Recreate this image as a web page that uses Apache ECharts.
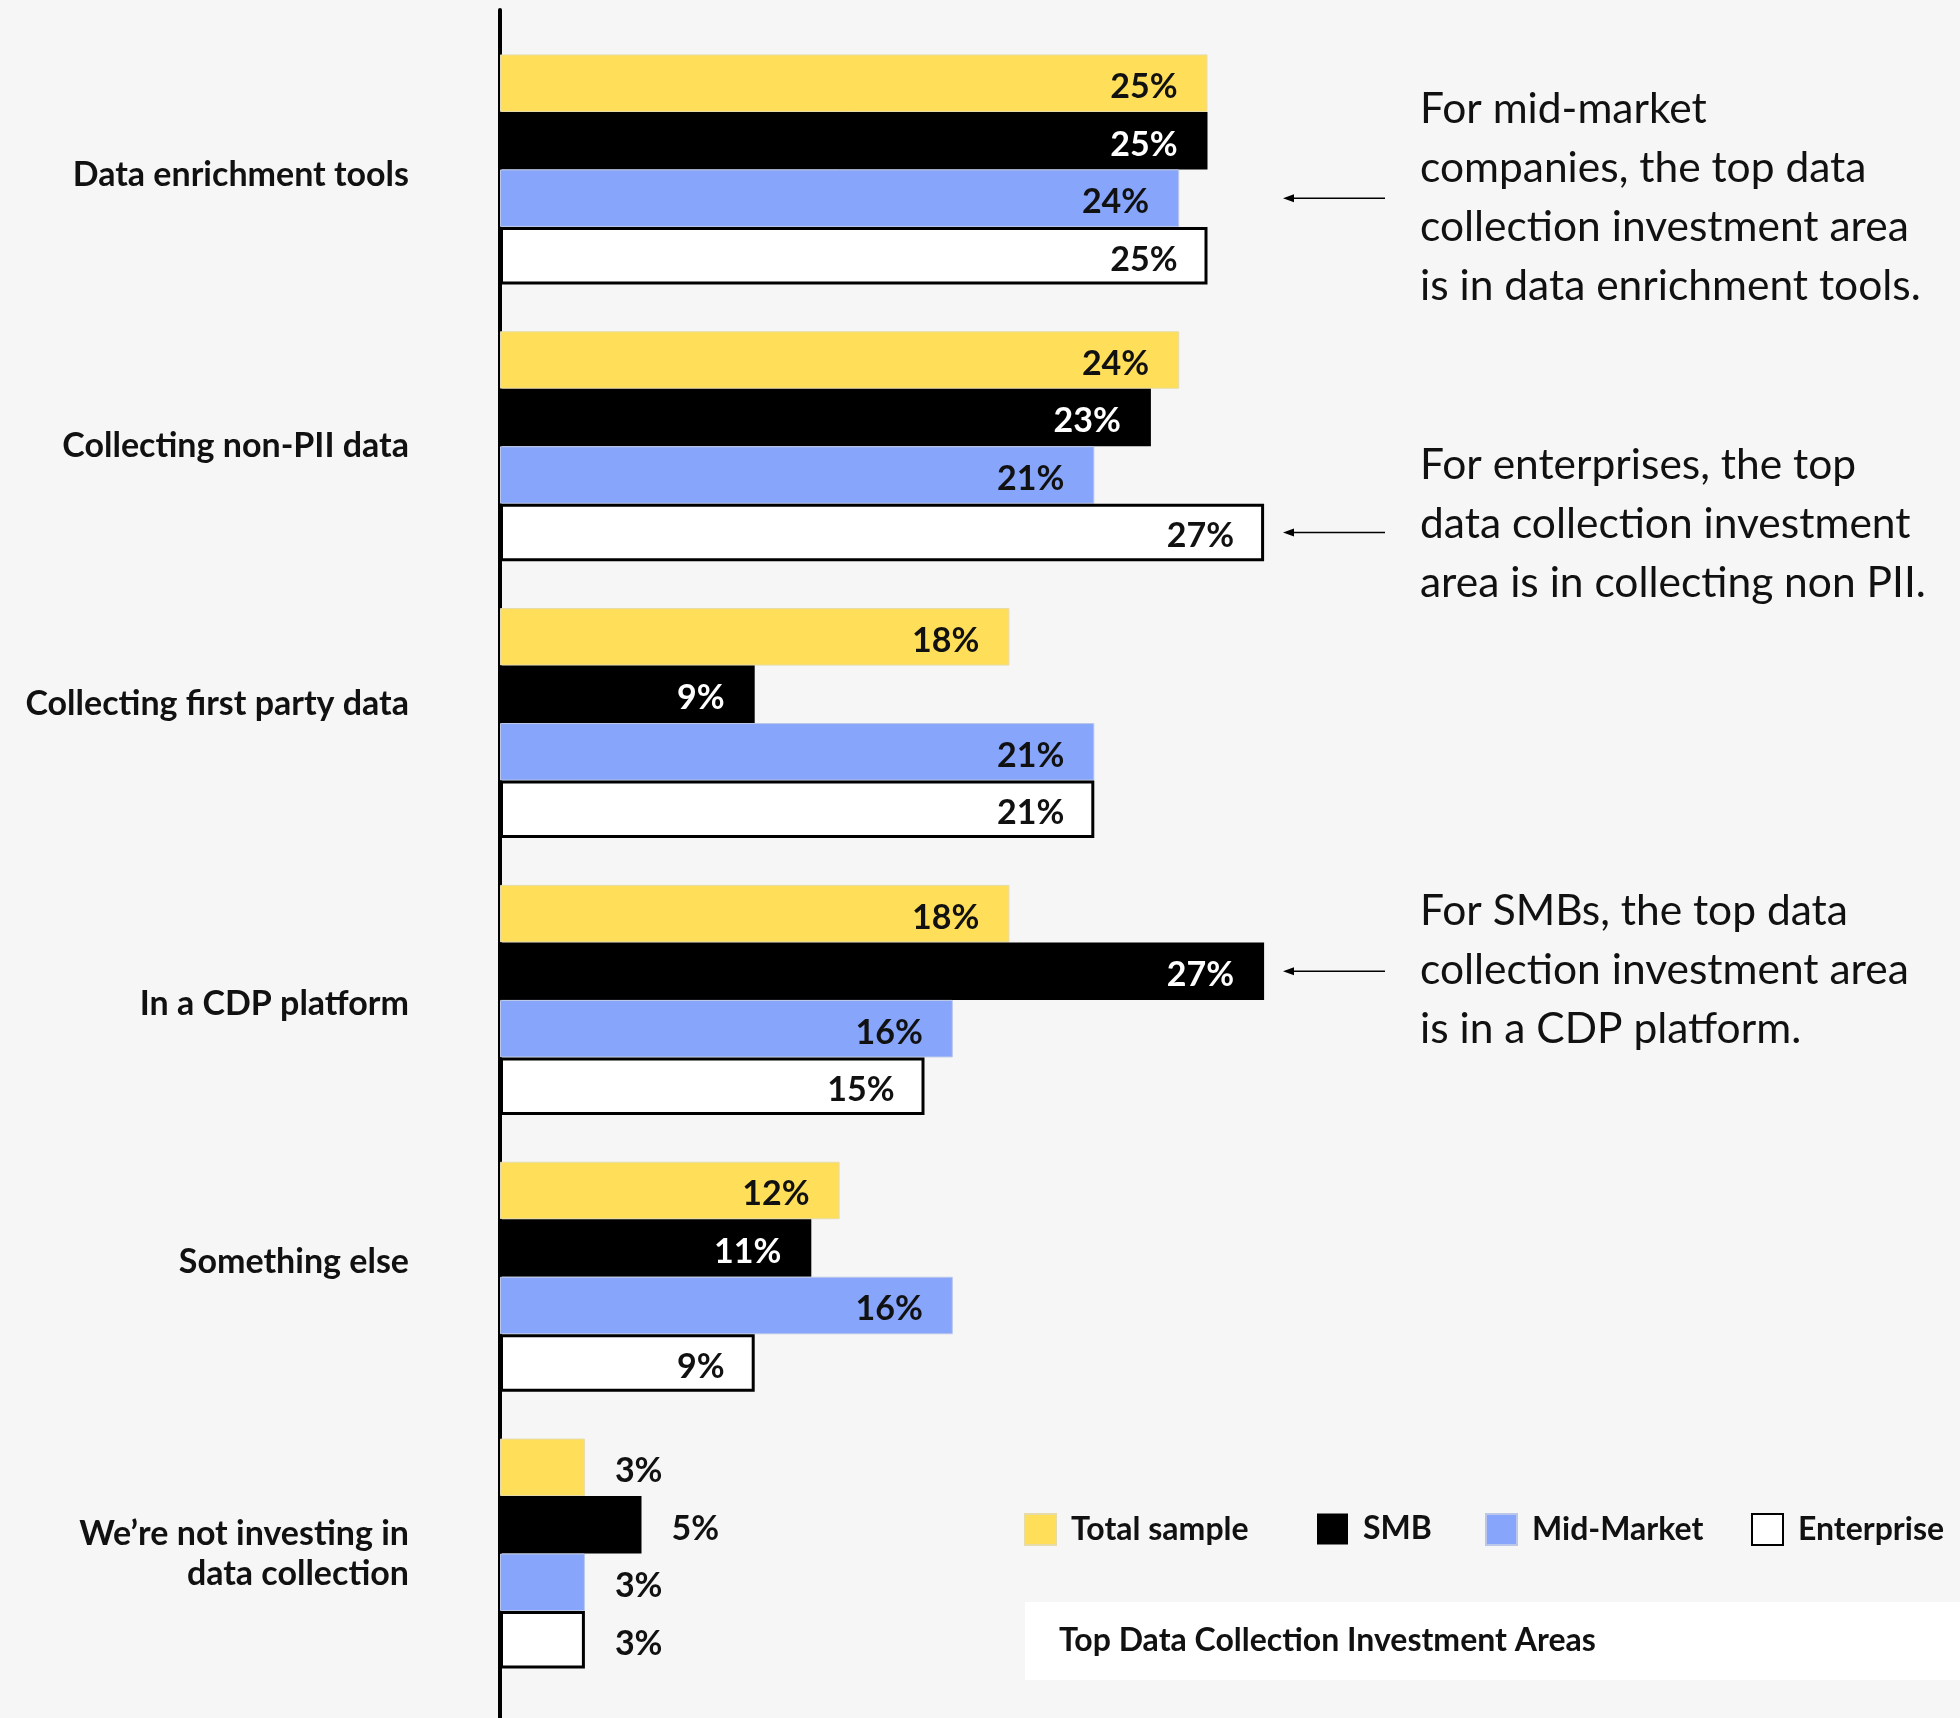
<!DOCTYPE html>
<html>
<head>
<meta charset="utf-8">
<script src="https://cdn.jsdelivr.net/npm/echarts@6/dist/echarts.min.js"></script>
<style>
  html, body { margin: 0; padding: 0; background: #f6f6f6; }
  #chart { width: 1960px; height: 1718px; }
</style>
</head>
<body>
<div id="chart"></div>
<script>
// Survey answers: where companies invest in data collection (% of respondents)
const categories = [
  'Data enrichment tools',
  'Collecting non-PII data',
  'Collecting first party data',
  'In a CDP platform',
  'Something else',
  'We\u2019re not investing in\ndata collection'
];
const seriesNames = ['Total sample', 'SMB', 'Mid-Market', 'Enterprise'];
const totalSample = [25, 24, 18, 18, 12, 3];
const smb = [25, 23, 9, 27, 11, 5];
const midMarket = [24, 21, 21, 16, 16, 3];
const enterprise = [25, 27, 21, 15, 9, 3];

const chartTitle = 'Top Data Collection Investment Areas';
const notes = [
  'For mid-market\ncompanies, the top data\ncollection investment area\nis in data enrichment tools.',
  'For enterprises, the top\ndata collection investment\narea is in collecting non PII.',
  'For SMBs, the top data\ncollection investment area\nis in a CDP platform.'
];
// [category index, series index] of the bar each note points at
const noteTargets = [[0, 2], [1, 3], [3, 1]];

const FONT = 'Lato';
const BAR_W = 57.5;

// small vertical nudges (px) for the category labels
const labelNudge = [6, 0, -19, 4, -15, 0];

const styles = [
  { color: '#ffde59', borderColor: '#e6dcaa', borderWidth: 1, label: '#111' },
  { color: '#000000', borderColor: '#000000', borderWidth: 0, label: '#ffffff' },
  { color: '#86a5fb', borderColor: '#bac7e8', borderWidth: 1, label: '#111' },
  { color: '#ffffff', borderColor: '#000000', borderWidth: 3, label: '#111' }
];

function buildSeries(name, values, idx) {
  const st = styles[idx];
  return {
    name: name,
    type: 'bar',
    xAxisIndex: 0,
    yAxisIndex: 0,
    barWidth: BAR_W,
    barGap: '0%',
    itemStyle: { color: st.color, borderColor: st.borderColor, borderWidth: st.borderWidth },
    data: values.map(v => {
      const outside = v <= 5;
      return {
        value: v,
        label: {
          show: true,
          position: outside ? 'right' : 'insideRight',
          distance: 30,
          offset: [0, 4],
          color: outside ? '#111' : st.label,
          fontFamily: FONT,
          fontWeight: 'bold',
          fontSize: 34,
          formatter: '{c}%'
        }
      };
    })
  };
}

const labelRich = {};
labelNudge.forEach((d, i) => {
  labelRich['n' + i] = {
    fontFamily: FONT,
    fontWeight: 'bold',
    fontSize: 34,
    lineHeight: 40,
    color: '#111',
    padding: d >= 0 ? [2 * d, 0, 0, 0] : [0, 0, -2 * d, 0]
  };
});

// one legend block per series so each entry sits at its own x
const legendLefts = [1019, 1312, 1480, 1746];
const legends = seriesNames.map((n, i) => ({
  data: [n],
  left: legendLefts[i],
  top: 1508,
  itemWidth: 31,
  itemHeight: 31,
  icon: 'rect',
  selectedMode: false,
  textStyle: { fontFamily: FONT, fontWeight: 'bold', fontSize: 32, color: '#111', padding: [0, 0, 0, 10] }
}));

const chart = echarts.init(document.getElementById('chart'), null, { renderer: 'canvas' });

const option = {
  backgroundColor: '#f6f6f6',
  animation: false,
  title: {
    text: chartTitle,
    left: 1059,
    top: 1641,
    textVerticalAlign: 'middle',
    textStyle: { fontFamily: FONT, fontWeight: 'bold', fontSize: 32, color: '#111' },
    padding: 0
  },
  legend: legends,
  grid: [
    { left: 500, top: 31, width: 849, height: 1661 },
    { left: 500, top: 10, width: 849, height: 1708 }
  ],
  xAxis: [
    { type: 'value', gridIndex: 0, min: 0, max: 30, show: false },
    { type: 'value', gridIndex: 1, min: 0, max: 30, show: false }
  ],
  yAxis: [
    {
      type: 'category',
      gridIndex: 0,
      data: categories,
      inverse: true,
      axisLine: { show: false },
      axisTick: { show: false },
      axisLabel: {
        margin: 91,
        fontFamily: FONT,
        fontWeight: 'bold',
        fontSize: 34,
        lineHeight: 40,
        color: '#111',
        align: 'right',
        formatter: (value, index) => {
          if (labelNudge[index] === 0) return value;
          return '{n' + index + '|' + value + '}';
        },
        rich: labelRich
      }
    },
    {
      type: 'value',
      gridIndex: 1,
      axisLine: { show: true, onZero: false, lineStyle: { color: '#000', width: 4 } },
      axisTick: { show: false },
      axisLabel: { show: false },
      splitLine: { show: false }
    }
  ],
  series: [
    buildSeries(seriesNames[0], totalSample, 0),
    buildSeries(seriesNames[1], smb, 1),
    buildSeries(seriesNames[2], midMarket, 2),
    buildSeries(seriesNames[3], enterprise, 3)
  ]
};

chart.setOption(option);

// White panel behind the title, callout notes and arrows pointing to highlighted bars
const graphics = [
  {
    type: 'rect',
    z: -1,
    shape: { x: 1025, y: 1602, width: 935, height: 78 },
    style: { fill: '#ffffff' }
  }
];

const noteCenters = [198, 524, 970];
noteTargets.forEach((t, i) => {
  const center = chart.convertToPixel({ gridIndex: 0 }, [0, t[0]]);
  const y = center[1] + (t[1] - 1.5) * BAR_W;
  graphics.push({
    type: 'line',
    shape: { x1: 1290, y1: y, x2: 1385, y2: y },
    style: { stroke: '#000', lineWidth: 1.5 }
  });
  graphics.push({
    type: 'polygon',
    shape: { points: [[1283, y], [1294, y - 4], [1294, y + 4]] },
    style: { fill: '#000' }
  });
  graphics.push({
    type: 'text',
    x: 1420,
    y: noteCenters[i],
    style: {
      text: notes[i],
      font: '42.5px ' + FONT,
      fill: '#111',
      lineHeight: 59,
      verticalAlign: 'middle',
      align: 'left'
    }
  });
});

chart.setOption({ graphic: graphics });
</script>
</body>
</html>
